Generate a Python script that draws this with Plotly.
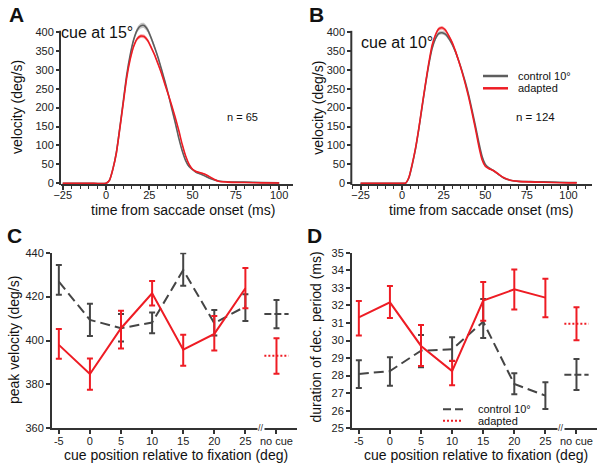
import plotly.graph_objects as go

# ---------------- data ----------------
# Panels A/B: mean velocity profiles (deg/s) vs time from saccade onset (ms)
t_A = [-25, -10, 0, 2, 4, 6, 8, 10, 12, 14, 16, 18, 20, 22, 24, 26, 28, 30, 32, 34,
       36, 38, 40, 42, 44, 46, 48, 50, 52, 55, 58, 61, 65, 70, 80, 90, 100]
ctrl_A = [0, 0, 0, 8, 38, 82, 148, 218, 288, 340, 380, 405, 416, 417, 406, 385, 360, 333, 302, 270,
          235, 197, 160, 120, 86, 60, 44, 36, 29, 24, 17, 11, 6, 4, 3, 2, 1]
ctrl_A_sem = [0.5, 0.5, 0.5, 1, 2, 3, 4, 5, 5, 6, 6, 7, 7, 7, 7, 6, 6, 5, 5, 5,
              4, 4, 4, 3, 3, 3, 3, 2, 2, 2, 2, 1.5, 1, 1, 1, 1, 1]
adap_A = [0, 0, 0, 8, 38, 80, 145, 213, 280, 328, 362, 382, 389, 388, 378, 360, 340, 316, 291, 262,
          234, 205, 174, 140, 103, 72, 50, 37, 31, 27, 22, 14, 5, 3, 2, 1, 0.5]
adap_A_sem = [0.5, 0.5, 0.5, 1, 2, 3, 4, 4, 4, 5, 5, 5, 5, 5, 5, 5, 4, 4, 4, 4,
              4, 3, 3, 3, 3, 3, 2, 2, 2, 2, 2, 1.5, 1, 1, 1, 1, 1]

t_B = [-25, -10, 0, 2, 4, 6, 8, 10, 12, 14, 16, 18, 20, 22, 24, 26, 28, 30, 32, 34,
       36, 38, 40, 42, 44, 46, 48, 50, 52, 55, 58, 61, 65, 70, 80, 90, 100, 105]
ctrl_B = [0, 0, 0, 0, 14, 48, 90, 143, 202, 260, 313, 356, 382, 396, 398, 394, 383, 368, 348, 324,
          297, 267, 233, 194, 153, 110, 72, 50, 41, 33, 23, 14, 8, 5, 4, 3, 2, 2]
ctrl_B_sem = [0.5, 0.5, 0.5, 0.5, 1, 2, 3, 3, 4, 4, 4, 5, 5, 5, 5, 5, 5, 4, 4, 4,
              4, 4, 4, 3, 3, 3, 3, 2, 2, 2, 2, 1.5, 1, 1, 1, 1, 1, 1]
adap_B = [0, 0, 0, 0, 15, 50, 92, 145, 205, 263, 318, 365, 392, 408, 411, 405, 390, 373, 350, 323,
          294, 262, 227, 187, 145, 100, 63, 45, 39, 33, 24, 15, 8, 5, 3, 2, 1, 1]
adap_B_sem = [0.5, 0.5, 0.5, 0.5, 1, 2, 3, 3, 4, 4, 4, 5, 5, 5, 5, 5, 4, 4, 4, 4,
              4, 3, 3, 3, 3, 3, 2, 2, 2, 2, 2, 1.5, 1, 1, 1, 1, 1, 1]

# Panels C/D: cue positions and "no cue" condition
cue_pos = [-5, 0, 5, 10, 15, 20, 25]
nocue_pos = 30
tick_vals = cue_pos + [nocue_pos]
tick_text = ["-5", "0", "5", "10", "15", "20", "25", "no cue"]

# C: peak velocity (deg/s)
C_ctrl = [426.8, 409.4, 405.6, 408.2, 432.1, 407.9, 415.5]
C_ctrl_hi = [434.4, 416.7, 412.1, 412.7, 439.7, 413.9, 421.1]
C_ctrl_lo = [420.8, 402.1, 399.5, 403.3, 425.0, 402.3, 408.9]
C_ctrl_nc = [412.1, 418.5, 405.6]          # mean, upper, lower
C_adap = [398.0, 384.7, 405.6, 421.5, 395.8, 403.0, 423.8]
C_adap_hi = [405.2, 391.8, 413.5, 427.1, 402.6, 411.2, 433.0]
C_adap_lo = [391.7, 377.6, 396.4, 415.9, 388.5, 395.5, 414.7]
C_adap_nc = [393.0, 401.0, 384.8]

# D: duration of deceleration period (ms)
D_ctrl = [28.09, 28.26, 29.42, 29.50, 31.07, 27.52, 26.86]
D_ctrl_hi = [28.87, 29.04, 30.31, 30.18, 32.36, 28.13, 27.62]
D_ctrl_lo = [27.30, 27.43, 28.47, 28.83, 30.14, 26.94, 26.10]
D_ctrl_nc = [28.05, 28.95, 27.18]
D_adap = [31.32, 32.17, 29.69, 28.26, 32.27, 32.91, 32.44]
D_adap_hi = [32.25, 33.10, 30.88, 28.85, 33.33, 34.05, 33.52]
D_adap_lo = [30.28, 31.28, 28.55, 27.45, 31.13, 31.77, 31.32]
D_adap_nc = [30.96, 31.89, 30.01]

# ---------------- style ----------------
W, H = 603, 467
FONT = "Liberation Sans, Arial, Helvetica, sans-serif"
RED = "#ee1c24"
RED_FILL = "rgba(240,90,90,0.55)"
GRAY = "#5e5e5e"
GRAY_FILL = "rgba(150,150,150,0.55)"
DGRAY = "#454545"
AXC = "#333333"

VEL_RANGE = [-2, 432]
VEL_AXIS_TOP = 403          # the drawn y-axis line stops here (curves may rise above)
VEL_BOTTOM_PX, VEL_SCALE = 184.0, 0.3782   # px of range bottom, px per deg/s


def px(x):
    return x / W


def py(y):
    return 1 - y / H


def vel_px(v):
    return VEL_BOTTOM_PX - (v - VEL_RANGE[0]) * VEL_SCALE


fig = go.Figure()


def add_band(t, m, s, fill, line_color, xa, ya):
    up = [a + b for a, b in zip(m, s)]
    lo = [a - b for a, b in zip(m, s)]
    fig.add_trace(go.Scatter(x=t, y=up, mode="lines", xaxis=xa, yaxis=ya,
                             line=dict(width=0, shape="spline", smoothing=0.6),
                             showlegend=False, hoverinfo="skip"))
    fig.add_trace(go.Scatter(x=t, y=lo, mode="lines", xaxis=xa, yaxis=ya, fill="tonexty",
                             fillcolor=fill, line=dict(width=0, shape="spline", smoothing=0.6),
                             showlegend=False, hoverinfo="skip"))
    fig.add_trace(go.Scatter(x=t, y=m, mode="lines", xaxis=xa, yaxis=ya,
                             line=dict(width=1.6, color=line_color, shape="spline", smoothing=0.6),
                             showlegend=False))


add_band(t_A, ctrl_A, ctrl_A_sem, GRAY_FILL, GRAY, "x", "y")
add_band(t_A, adap_A, adap_A_sem, RED_FILL, RED, "x", "y")
add_band(t_B, ctrl_B, ctrl_B_sem, GRAY_FILL, GRAY, "x2", "y2")
add_band(t_B, adap_B, adap_B_sem, RED_FILL, RED, "x2", "y2")

NC_HALF = 1.95  # half length of the "no cue" horizontal marker (x units)


def add_cond(xa, ya, m, hi, lo, nc, color, dash, nc_dash):
    fig.add_trace(go.Scatter(
        x=cue_pos, y=m, mode="lines", xaxis=xa, yaxis=ya,
        line=dict(color=color, width=2, dash=dash),
        error_y=dict(type="data", symmetric=False,
                     array=[h - v for h, v in zip(hi, m)],
                     arrayminus=[v - l for l, v in zip(lo, m)],
                     color=color, thickness=2, width=3),
        showlegend=False))
    fig.add_trace(go.Scatter(
        x=[nocue_pos - NC_HALF, nocue_pos + NC_HALF], y=[nc[0], nc[0]], mode="lines",
        xaxis=xa, yaxis=ya, line=dict(color=color, width=2, dash=nc_dash), showlegend=False))
    fig.add_trace(go.Scatter(
        x=[nocue_pos], y=[nc[0]], mode="markers", xaxis=xa, yaxis=ya,
        marker=dict(size=1, color=color),
        error_y=dict(type="data", symmetric=False, array=[nc[1] - nc[0]],
                     arrayminus=[nc[0] - nc[2]], color=color, thickness=2, width=3),
        showlegend=False))


add_cond("x3", "y3", C_ctrl, C_ctrl_hi, C_ctrl_lo, C_ctrl_nc, DGRAY, "10px,5px", "7px,3px")
add_cond("x3", "y3", C_adap, C_adap_hi, C_adap_lo, C_adap_nc, RED, "solid", "2px,2px")
add_cond("x4", "y4", D_ctrl, D_ctrl_hi, D_ctrl_lo, D_ctrl_nc, DGRAY, "10px,5px", "7px,3px")
add_cond("x4", "y4", D_adap, D_adap_hi, D_adap_lo, D_adap_nc, RED, "solid", "2px,2px")


def axis(domain, rng, anchor, **kw):
    d = dict(domain=domain, range=rng, anchor=anchor, showline=True, linecolor=AXC, linewidth=2,
             ticks="outside", ticklen=4, tickwidth=1.5, tickcolor=AXC, showgrid=False,
             zeroline=False, fixedrange=True, automargin=False,
             tickfont=dict(family=FONT, size=11, color="#222222"))
    d.update(kw)
    return d


minor = dict(dtick=5, ticks="outside", ticklen=3, tickwidth=1.2, tickcolor=AXC)
vel_dom = [py(VEL_BOTTOM_PX), py(vel_px(VEL_RANGE[1]))]

layout = dict(
    width=W, height=H, margin=dict(l=0, r=0, t=0, b=0, pad=0, autoexpand=False),
    paper_bgcolor="white", plot_bgcolor="white", showlegend=False,
    font=dict(family=FONT, color="#111111"),
    xaxis=axis([px(61), px(293)], [-26, 108], "y", tick0=0, dtick=25, minor=minor,
               ticklabelstandoff=-4),
    yaxis=axis(vel_dom, VEL_RANGE, "x", tickvals=[0, 50, 100, 150, 200, 250, 300, 350, 400],
               showline=False),
    xaxis2=axis([px(352.3), px(591.7)], [-30, 114], "y2", tick0=0, dtick=25, minor=minor,
                ticklabelstandoff=-4),
    yaxis2=axis(vel_dom, VEL_RANGE, "x2", tickvals=[0, 50, 100, 150, 200, 250, 300, 350, 400],
                showline=False),
    xaxis3=axis([px(52), px(297)], [-6.1, 33.3], "y3", tickmode="array",
                tickvals=tick_vals, ticktext=tick_text, ticklabelstandoff=-3),
    yaxis3=axis([py(428.3), py(252.7)], [360, 440], "x3", tick0=360, dtick=20),
    xaxis4=axis([px(352), px(597)], [-6.1, 33.3], "y4", tickmode="array",
                tickvals=tick_vals, ticktext=tick_text, ticklabelstandoff=-3),
    yaxis4=axis([py(428.3), py(252.7)], [25, 35], "x4", tick0=25, dtick=1),
)
fig.update_layout(**layout)

ann = []


def text(x, y, s, size, anchor="center", angle=0, bold=False, **kw):
    d = dict(x=px(x), y=py(y), xref="paper", yref="paper", text=("<b>%s</b>" % s if bold else s),
             showarrow=False, xanchor=anchor, yanchor="middle", textangle=angle,
             font=dict(family=FONT, size=size, color="#111111"))
    d.update(kw)
    ann.append(d)


# panel letters
text(16.5, 14.5, "A", 21, bold=True)
text(316.7, 14.5, "B", 21, bold=True)
text(14.2, 235, "C", 21, bold=True)
text(314.2, 235, "D", 21, bold=True)
# axis titles
text(183.3, 210, "time from saccade onset (ms)", 14)
text(17.5, 107.5, "velocity (deg/s)", 14, angle=-90)
text(480.7, 210, "time from saccade onset (ms)", 14)
text(318.3, 107.5, "velocity (deg/s)", 14, angle=-90)
text(176, 455, "cue position relative to fixation (deg)", 14)
text(13.5, 340.5, "peak velocity (deg/s)", 14, angle=-90)
text(476, 455, "cue position relative to fixation (deg)", 14)
text(315, 337.5, "duration of dec. period (ms)", 14, angle=-90)
# in-panel texts
text(59.3, 33, "cue at 15°", 16, anchor="left")
text(359.3, 42, "cue at 10°", 16, anchor="left")
text(242, 117, "n = 65", 11)
text(535.5, 117.3, "n = 124", 11.5)
# legend texts
text(516, 76, "control 10°", 11, anchor="left")
text(516, 88.3, "adapted", 11, anchor="left")
text(475.7, 409.3, "control 10°", 11, anchor="left")
text(475.7, 420.7, "adapted", 11, anchor="left")

# axis break marks between the cue positions and "no cue"
brk = (cue_pos[-1] + nocue_pos) / 2
for xa, ya, y0 in (("x3", "y3", 360), ("x4", "y4", 25)):
    ann.append(dict(x=brk, y=y0, xref=xa, yref=ya, text="//", showarrow=False,
                    xanchor="center", yanchor="middle", bgcolor="white", borderpad=0,
                    font=dict(family=FONT, size=9, color=AXC)))

fig.update_layout(annotations=ann)

shapes = []
# velocity y-axis lines (stop just above the 400 tick, as in the original)
for xl in (61, 352.3):
    shapes.append(dict(type="line", xref="paper", yref="paper", x0=px(xl - 1), x1=px(xl - 1),
                       y0=py(VEL_BOTTOM_PX + 1), y1=py(vel_px(VEL_AXIS_TOP)),
                       line=dict(color=AXC, width=2)))
# legend keys
shapes += [
    dict(type="line", xref="paper", yref="paper", x0=px(483), x1=px(508), y0=py(76), y1=py(76),
         line=dict(color=GRAY, width=2.5)),
    dict(type="line", xref="paper", yref="paper", x0=px(483), x1=px(508), y0=py(88.3), y1=py(88.3),
         line=dict(color=RED, width=2.5)),
    dict(type="line", xref="paper", yref="paper", x0=px(443), x1=px(463), y0=py(409.3), y1=py(409.3),
         line=dict(color=DGRAY, width=2, dash="8px,4px")),
    dict(type="line", xref="paper", yref="paper", x0=px(443), x1=px(463), y0=py(420.7), y1=py(420.7),
         line=dict(color=RED, width=2, dash="2px,2px")),
]
fig.update_layout(shapes=shapes)

fig.write_html("out.html", config={"displayModeBar": False},
               post_script="document.body.style.margin='0';document.body.style.overflow='hidden';")
